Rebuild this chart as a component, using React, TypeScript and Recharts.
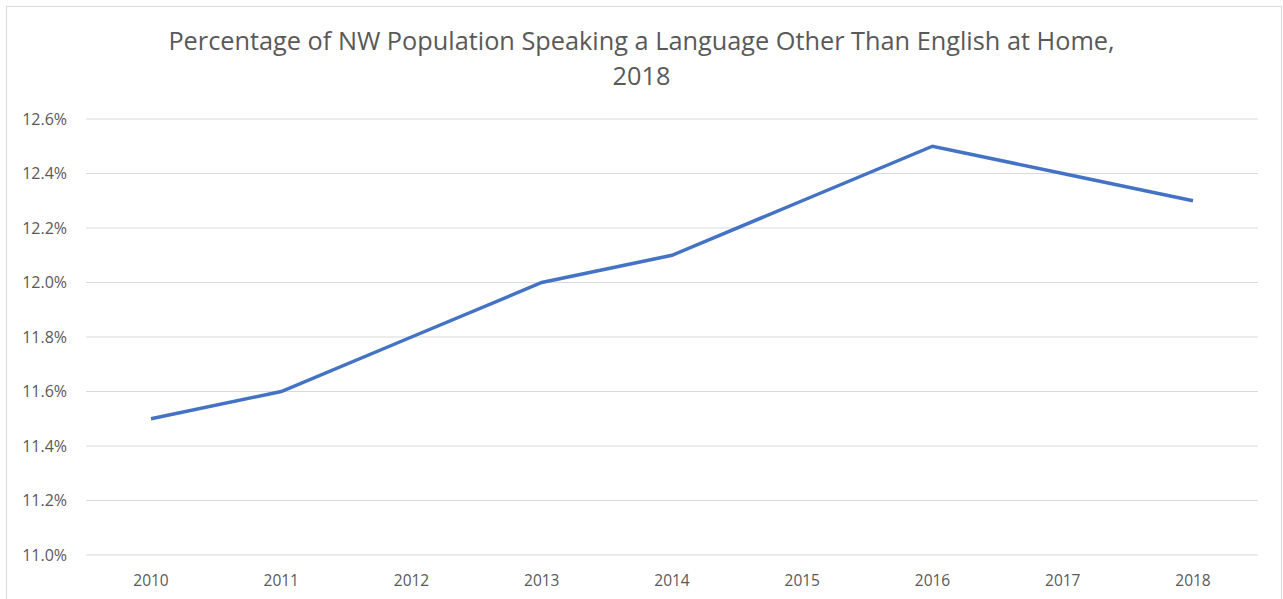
import React from "react";
import { LineChart, Line, XAxis, YAxis, CartesianGrid } from "recharts";

const years = ["2010", "2011", "2012", "2013", "2014", "2015", "2016", "2017", "2018"];
const shareValues = [11.5, 11.6, 11.8, 12.0, 12.1, 12.3, 12.5, 12.4, 12.3];
const yTicks = [11.0, 11.2, 11.4, 11.6, 11.8, 12.0, 12.2, 12.4, 12.6];
const titleLines = [
  "Percentage of NW Population Speaking a Language Other Than English at Home,",
  "2018",
];

const data = years.map((y, i) => ({ year: y, value: shareValues[i] }));

const FONT = "'Open Sans', sans-serif";
const TEXT = "#595959";

export default function App() {
  return (
    <div style={{ position: "absolute", left: 0, top: 0, width: 1283, height: 599, background: "#fff", overflow: "hidden" }}>
      <div
        style={{
          position: "absolute",
          left: 6,
          top: 6,
          width: 1274,
          height: 620,
          border: "1px solid #d9d9d9",
        }}
      />
      <div
        style={{
          position: "absolute",
          left: 0,
          top: 23,
          width: 1283,
          textAlign: "center",
          fontFamily: FONT,
          fontSize: 25.3,
          lineHeight: "35px",
          color: TEXT,
        }}
      >
        {titleLines.map((t, i) => (
          <div key={i}>{t}</div>
        ))}
      </div>
      <div style={{ position: "absolute", left: 0, top: 0 }}>
        <LineChart
          width={1283}
          height={599}
          data={data}
          margin={{ top: 119, right: 25, bottom: 14, left: 26 }}
        >
          <CartesianGrid vertical={false} stroke="#d9d9d9" strokeWidth={1} />
          <XAxis
            dataKey="year"
            axisLine={false}
            tickLine={false}
            height={30}
            padding={{ left: 65, right: 65 }}
            tickMargin={14}
            tick={{ fill: TEXT, fontSize: 15.5, fontFamily: FONT }}
            interval={0}
          />
          <YAxis
            type="number"
            domain={[11.0, 12.6]}
            ticks={yTicks}
            width={60}
            axisLine={false}
            tickLine={false}
            tickMargin={13}
            tickFormatter={(v: number) => `${v.toFixed(1)}%`}
            tick={{ fill: TEXT, fontSize: 16, fontFamily: FONT }}
            interval={0}
          />
          <Line
            type="linear"
            dataKey="value"
            stroke="#4472C4"
            strokeWidth={3.5}
            dot={false}
            activeDot={false}
            isAnimationActive={false}
          />
        </LineChart>
      </div>
    </div>
  );
}
